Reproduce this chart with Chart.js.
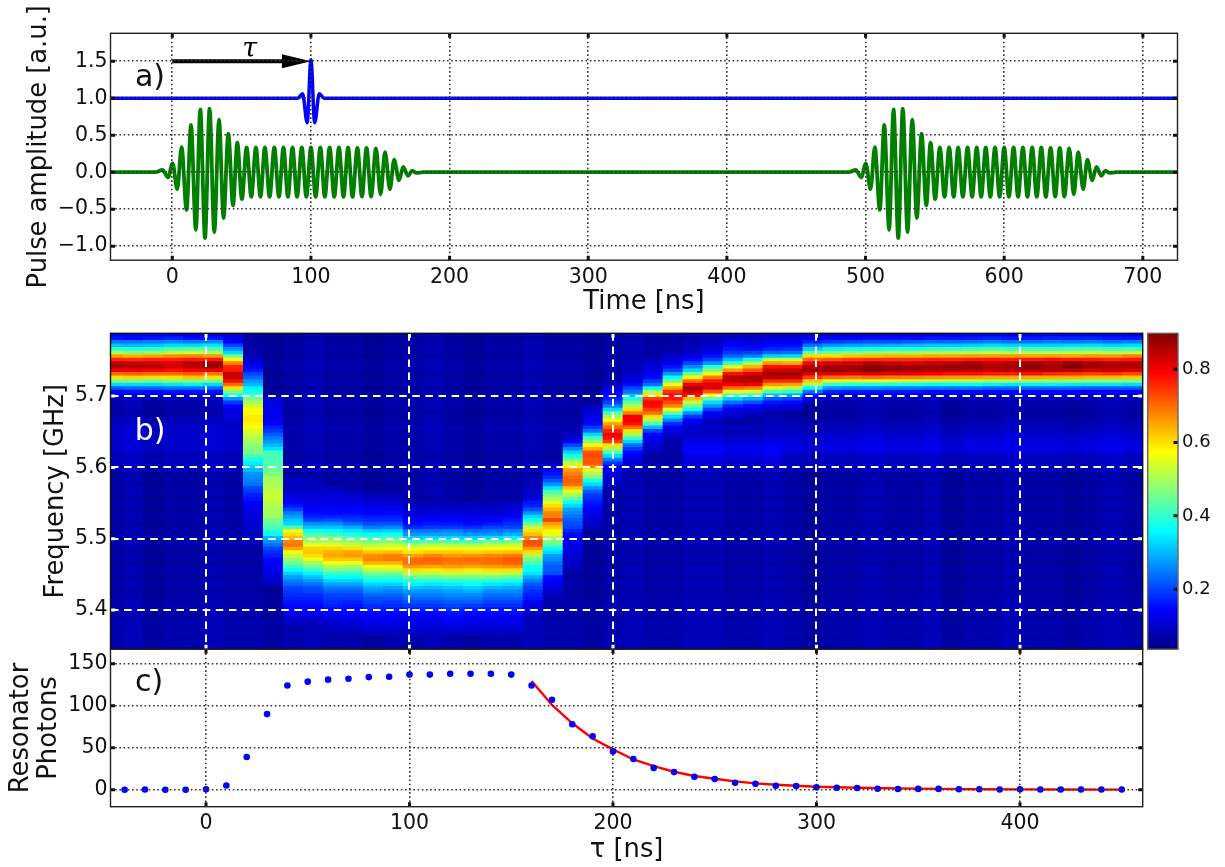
<!DOCTYPE html>
<html>
<head>
<meta charset="utf-8">
<title>Pulse sequence and resonator response</title>
<script src="https://cdn.jsdelivr.net/npm/chart.js@4"></script>
<style>
  body { margin: 0; background: #fff; }
  canvas { position: absolute; left: 0; top: 0; }
</style>
</head>
<body>
<canvas id="pulseChart" width="1225" height="867"></canvas>
<canvas id="heatChart" width="1225" height="867"></canvas>
<canvas id="barChart" width="1225" height="867"></canvas>
<canvas id="photonChart" width="1225" height="867"></canvas>
<script>
// panel a
const pulseTimes = [-20,-12,-7,-3.1,0.2,3.6,6.7,10.3,13.5,17,20.2,23.6,26.9,30.3,33.7,37,40.4,43.8,46.9,50.2,53.6,57,60.3,63.6,66.8,70.2,73.6,76.9,80.2,83.4,86.7,90,93.4,96.7,100,103.4,106.8,110,113.5,116.8,120.2,123.5,126.8,130,133.5,136.8,140.1,143.4,146.9,150.2,153.4,157,160,163.5,166.6,170,173,176,181]
const pulseValues = [0,0,0.03,-0.07,0.12,-0.23,0.34,-0.51,0.64,-0.78,0.85,-0.89,0.86,-0.81,0.71,-0.62,0.52,-0.45,0.4,-0.365,0.335,-0.335,0.335,-0.335,0.335,-0.335,0.335,-0.335,0.335,-0.335,0.335,-0.335,0.335,-0.335,0.335,-0.335,0.335,-0.335,0.335,-0.335,0.335,-0.335,0.335,-0.335,0.33,-0.33,0.33,-0.33,0.32,-0.3,0.27,-0.23,0.17,-0.11,0.07,-0.05,0.02,-0.01,0]
const pulseStarts = [0, 500]
const probeTimes = [-50,88,90.5,94,97.3,100,102.7,106,109.5,112,750]
const probeValues = [1,1,1,1.06,0.67,1.52,0.67,1.06,1,1,1]
const arrowTaus = [0, 100]
const arrowLevel = 1.5

// panel b, values in hundredths, each column is [first row, values...], row 0 is the top one
const heatColumns = [
  [0,12,16,24,31,40,50,66,76,85,87,80,70,60,46,33,22,15,11,9],
  [0,12,15,24,30,38,48,64,75,84,86,80,71,61,46,33,23,16,12,10],
  [0,13,16,25,31,39,49,65,76,83,85,79,70,60,45,33,23,15,11,9],
  [0,12,17,26,33,42,52,67,76,82,83,78,70,60,47,34,24,16,11,9],
  [0,11,15,25,33,43,53,68,77,85,85,80,72,62,47,35,24,16,11,9],
  [0,11,16,26,34,42,50,66,77,87,88,80,69,60,46,33,23,16,11,9],
  [0,11,12,14,20,26,33,45,58,68,76,77,84,84,78,70,60,46,38,27,19,15,13,12,11,11],
  [6,8,10,12,14,16,20,23,27,30,35,37,42,46,50,54,57,58,59,59,58,57,55,53,51,50,48,47,46,42,38,35,32,30,27,26,25,24,20,19,17,16,14,13,12,12,11,11,10,10,10,9,9,9],
  [18,11,12,12,13,13,13,13,14,17,19,22,25,27,30,34,41,42,42,43,43,45,47,49,50,50,51,52,53,53,52,51,50,50,49,46,44,42,40,36,30,27,24,20,18,17,15,14,13,13,12,11,10,9],
  [40,8,9,9,9,10,11,12,14,16,20,25,28,31,33,42,56,60,63,68,69,65,56,53,49,45,41,36,32,28,25,23,20,19,18,17,16,15,14,13,11,10,9],
  [42,9,9,10,11,11,12,13,14,15,17,20,26,31,37,42,47,50,55,61,62,60,56,50,45,40,35,31,27,24,21,20,18,17,16,15,14,13,12,10,9,8],
  [43,9,10,11,12,12,13,14,15,17,21,26,31,36,41,46,50,55,61,64,65,62,57,51,46,41,36,32,28,25,22,20,19,18,17,15,14,13,11,10,9,9],
  [44,9,10,11,12,13,14,15,17,19,23,29,34,38,43,48,53,60,65,66,62,56,50,45,40,36,32,28,25,22,20,19,17,16,15,14,13,12,11,10,9],
  [45,9,10,11,12,13,14,16,18,21,25,31,36,41,46,51,56,62,67,68,64,57,51,46,41,36,32,29,26,23,21,20,18,17,15,14,13,12,11,10,9],
  [45,9,10,11,12,13,15,16,18,21,26,32,37,42,47,52,57,63,68,69,64,58,52,46,41,36,32,28,25,23,21,19,18,16,15,14,13,12,11,10,9],
  [47,8,9,10,11,12,14,15,18,24,27,32,42,50,56,60,66,70,70,66,60,52,45,39,35,31,27,25,23,21,19,17,15,14,13,12,11,10,9],
  [47,8,9,10,11,13,14,16,19,24,28,33,43,51,57,62,68,71,70,65,59,52,45,39,34,30,27,25,23,21,19,17,15,14,13,12,11,10,9],
  [47,8,9,10,12,13,15,16,19,25,28,33,42,50,57,62,66,70,69,66,60,53,46,40,35,31,28,26,24,22,20,18,16,15,14,13,12,10,9],
  [47,8,9,10,11,12,14,15,18,23,27,32,42,50,56,61,67,70,69,65,59,52,46,40,36,32,29,26,24,22,19,17,15,14,13,12,11,10,9],
  [47,8,9,10,11,13,14,16,20,24,27,33,44,52,57,62,68,70,70,66,60,53,46,39,34,30,26,24,22,20,18,16,15,14,13,12,11,10,9],
  [47,9,10,11,12,14,16,18,20,25,29,35,45,53,58,63,69,72,71,67,60,52,44,38,33,29,26,24,22,20,18,16,15,14,13,12,11,10,9],
  [42,8,9,10,10,11,16,17,21,27,33,37,45,52,60,63,68,72,72,66,60,50,46,42,38,36,34,29,25,22,20,18,17,16,14,12,11,10,9],
  [36,9,10,13,16,18,22,27,34,42,46,50,55,60,64,68,68,74,66,62,58,56,50,47,43,36,33,28,26,24,22,22,21,15,14,13,12,10,9,8],
  [27,8,9,10,14,20,26,33,38,45,52,59,66,68,70,71,70,62,55,50,44,37,33,28,26,24,22,21,20,17,15,14,13,12,12,11,11,10,10,9,8],
  [20,9,10,11,12,13,15,19,24,33,42,47,58,64,72,73,72,72,68,55,50,46,38,33,27,22,19,18,16,15,14,13,12,11,10,9],
  [14,9,12,14,15,17,20,25,33,43,50,58,65,70,76,80,78,74,60,50,42,33,25,19,15,13,12,11,10,9],
  [11,9,11,12,15,20,24,30,38,45,50,60,68,80,80,78,70,60,50,42,33,24,19,15,13,12,11,10,9],
  [7,9,10,11,12,13,15,19,24,36,50,60,74,79,78,74,70,60,50,43,30,20,15,13,12,11,10,9],
  [5,8,10,11,13,16,20,27,37,45,57,65,75,78,77,73,68,56,44,33,25,18,14,12,10,9],
  [3,8,9,10,12,15,20,26,33,45,58,70,80,86,83,78,63,52,45,37,27,19,14,12,10,10],
  [1,8,9,10,11,13,16,20,27,39,47,56,68,77,82,81,72,58,44,33,27,20,14,12,10],
  [0,8,10,12,14,16,19,23,30,40,55,66,78,85,85,79,70,55,42,32,24,17,13,11,10],
  [0,9,10,11,13,15,20,25,37,50,64,72,82,86,85,80,68,54,40,29,21,15,12,10],
  [0,10,11,13,15,17,23,32,52,66,78,83,87,85,76,66,55,42,30,22,16,12,10],
  [0,10,11,13,15,18,24,33,52,65,78,84,87,84,76,65,52,40,28,20,15,12,10],
  [0,10,13,17,24,32,44,60,70,80,86,87,82,74,62,50,36,24,16,12,10],
  [0,10,14,19,27,35,46,60,72,82,87,88,82,70,54,40,27,17,11,9],
  [0,10,14,20,28,36,47,62,74,83,87,87,81,69,53,39,26,16,11,9],
  [0,11,15,21,29,37,48,63,75,85,89,89,82,70,54,38,26,16,11,9],
  [0,11,15,21,29,38,49,64,75,84,88,88,81,69,53,38,25,16,11,9],
  [0,11,15,22,30,38,49,64,75,83,87,87,80,68,52,37,25,16,11,9],
  [0,11,16,23,31,40,50,65,76,84,87,86,79,67,51,36,24,15,11,9],
  [0,12,16,23,31,40,51,65,76,85,88,86,78,66,50,36,24,15,10,9],
  [0,12,16,24,32,41,51,66,77,86,88,85,78,66,50,36,24,15,10,9],
  [0,12,17,25,33,42,52,66,77,84,86,84,77,65,49,35,23,15,10,9],
  [0,12,16,24,32,41,51,66,77,85,87,85,77,65,49,34,23,15,11,9],
  [0,12,16,24,32,41,51,65,77,87,89,86,78,65,49,35,23,15,11,9],
  [0,13,17,25,32,41,51,66,78,85,87,85,76,64,48,35,23,15,11,9],
  [0,12,17,24,33,41,52,65,77,88,90,85,75,64,48,34,23,14,11,9],
  [0,12,17,25,33,42,52,66,77,86,87,83,74,63,47,34,22,14,10,9],
  [0,12,16,24,32,41,51,66,76,85,86,83,75,63,47,34,22,14,10,9],
  [0,12,16,25,33,41,52,68,77,85,86,82,73,62,46,33,22,14,10,9]
]
const backgroundRows = [7,6,7,6,7,7,6,7,7,7,7,6,7,7,7,6,7,7,7,7,7,7,6,7,7,7,8,7,7,7,7,7,7,7,6,7,7,7,7,6,7,7,6,7,7,7,6,7,7,6,7,7,7,6,7,7,7,6,7,7,7,6,7,7,6,7,7,7,6,7,7,7,6,7,7,7,8,7,7,7,7,8,7,7,8,7,8,7,7]
const columnRipple = [0,1,-1,0,0,1,0,0,-1,0,1,0,0,-1,0,0,1,0,-1,0,0,1,0,0,-1,0,1,0,0,1,1,0,0,1,0,-1,0,0,1,0,0,1,-1,0,0,1,0,0,-1,0,1,0]
// faint blobs under the ridge: columns, first row, what each row adds
const faintBands = [
  { cols: [0, 6], firstRow: 23, adds: [1,1,2,2,3,3,3,3,3,3,2,2,2,1,1,1] },
  { cols: [29, 33], firstRow: 26, adds: [1,1,2,3,4,5,6,6,5,4,3,2,1,1] },
  { cols: [34, 51], firstRow: 25, adds: [1,1,2,3,4,4,5,5,4,3,2,2,1,1] }
]
const freqTop = 5.788
const freqStep = 0.005
const rowCount = 89
const columnStart = -50.3
const columnStep = 9.82
const barLimits = [0.036, 0.898]
const tauTicks = [0, 100, 200, 300, 400]

// panel c
const photonTaus = [-40,-30,-20,-10,0,10,20,30,40,50,60,70,80,90,100,110,120,130,140,150,160,170,180,190,200,210,220,230,240,250,260,270,280,290,300,310,320,330,340,350,360,370,380,390,400,410,420,430,440,450]
const photonValues = [0,0.3,0,0,0.5,5,39,90,124,128.6,131,132,134,134.5,137,137,138,138,138,137,124,107,78,63.5,45.6,36.5,26,21,15.5,12.7,8.3,7,4.8,4.4,2.8,2.4,2,1.2,0.8,1,1,0.5,0.5,0.3,0.6,0.3,0.2,0.3,0.2,0.2]
const fitTaus = [160,170,180,190,200,210,220,230,240,250,260,270,280,290,300,320,340,360,380,400,420,450]
const fitValues = [129.4,100.8,79,61,48,36,28,21.4,16.3,13,10,7.5,6,4.8,3.6,2.4,1.6,1,0.6,0.4,0.2,0.1]

Chart.defaults.font.family = "'DejaVu Sans'"
Chart.defaults.color = '#111'
Chart.defaults.animation = false
Chart.defaults.responsive = false
Chart.defaults.plugins.legend.display = false
Chart.defaults.plugins.tooltip.enabled = false

const jet = (value) => {
  const n = (value - barLimits[0]) / (barLimits[1] - barLimits[0])
  const part = (c) => Math.round(255 * Math.min(1, Math.max(0, 1.5 - Math.abs(4 * n - c))))
  return `rgb(${part(3)},${part(2)},${part(1)})`
}

const heatValue = (col, row) => {
  const column = heatColumns[col]
  const inWindow = column[row - column[0] + 1]
  if (row >= column[0] && inWindow !== undefined) return inWindow / 100
  let level = backgroundRows[row] + columnRipple[col]
  faintBands.forEach((band) => {
    if (col >= band.cols[0] && col <= band.cols[1]) level += band.adds[row - band.firstRow] || 0
  })
  return level / 100
}

const heatCells = []
const heatColors = []
heatColumns.forEach((column, col) => {
  for (let row = 0; row < rowCount; row++) {
    heatCells.push({
      x: columnStart + columnStep * (col + 0.5),
      y: [freqTop - freqStep * (row + 1), freqTop - freqStep * row]
    })
    heatColors.push(jet(heatValue(col, row)))
  }
})

// inward tick marks and the box round a panel
const framePlugin = (tickColor, boxColor, text) => ({
  id: 'frame',
  afterDraw (chart) {
    const { ctx, chartArea: a, scales } = chart
    ctx.save()
    ctx.strokeStyle = tickColor
    ctx.lineWidth = 3
    ctx.beginPath()
    if (scales.x.options.display !== false) {
      scales.x.ticks.forEach((t) => {
        const px = scales.x.getPixelForValue(t.value)
        ctx.moveTo(px, a.top); ctx.lineTo(px, a.top + 4.5)
        ctx.moveTo(px, a.bottom); ctx.lineTo(px, a.bottom - 4.5)
      })
    }
    scales.y.ticks.forEach((t) => {
      const py = scales.y.getPixelForValue(t.value)
      if (scales.x.options.display !== false) {
        ctx.moveTo(a.left, py); ctx.lineTo(a.left + 4.5, py)
      }
      ctx.moveTo(a.right, py); ctx.lineTo(a.right - 4.5, py)
    })
    ctx.stroke()
    ctx.strokeStyle = boxColor
    ctx.lineWidth = 1.4
    ctx.strokeRect(a.left, a.top, a.right - a.left, a.bottom - a.top)
    if (text) {
      ctx.fillStyle = text.color
      ctx.font = "30px 'DejaVu Sans'"
      ctx.textAlign = 'center'
      ctx.textBaseline = 'middle'
      ctx.fillText(text.label, text.x, text.y)
    }
    ctx.restore()
  }
})

const arrowPlugin = {
  id: 'arrow',
  afterDatasetsDraw (chart) {
    const { ctx, scales } = chart
    const x0 = scales.x.getPixelForValue(arrowTaus[0])
    const x1 = scales.x.getPixelForValue(arrowTaus[1])
    const y = scales.y.getPixelForValue(arrowLevel)
    ctx.save()
    ctx.strokeStyle = '#000'
    ctx.fillStyle = '#000'
    ctx.lineWidth = 4
    ctx.beginPath()
    ctx.moveTo(x0, y)
    ctx.lineTo(x1 - 25, y)
    ctx.stroke()
    ctx.beginPath()
    ctx.moveTo(x1, y)
    ctx.lineTo(x1 - 29, y - 7)
    ctx.lineTo(x1 - 29, y + 7)
    ctx.closePath()
    ctx.fill()
    ctx.font = "italic 27px 'DejaVu Serif'"
    ctx.textAlign = 'center'
    ctx.textBaseline = 'middle'
    ctx.fillText('τ', (x0 + x1) / 2 + 8, y - 11)
    ctx.restore()
  }
}

const dotted = { grid: { color: '#333', lineWidth: 1.6, z: 1, drawTicks: false }, border: { display: false, dash: [1.6, 2.6] } }
const dashed = { grid: { color: '#fff', lineWidth: 2, z: 1, drawTicks: false }, border: { display: false, dash: [7.5, 5.6] } }
const titleFont = { size: 25.8 }
const tickFont = { size: 20.5 }
const useTauTicks = (s) => { s.ticks = tauTicks.map((value) => ({ value })) }

const minusLabel = (digits) => (value) => value.toFixed(digits).replace('-', '\u2212')

const pulseSeries = [{ x: -50, y: 0 }].concat(
  pulseStarts.flatMap((start) => pulseTimes.map((t, i) => ({ x: t + start, y: pulseValues[i] }))),
  [{ x: 750, y: 0 }]
)

new Chart(document.getElementById('pulseChart'), {
  type: 'line',
  data: {
    datasets: [
      {
        data: probeTimes.map((t, i) => ({ x: t, y: probeValues[i] })),
        borderColor: '#0000ff',
        borderWidth: 3.5,
        pointRadius: 0,
        cubicInterpolationMode: 'monotone'
      },
      {
        data: pulseSeries,
        borderColor: '#007f00',
        borderWidth: 3.8,
        pointRadius: 0,
        cubicInterpolationMode: 'monotone'
      }
    ]
  },
  options: {
    layout: { padding: { top: 33.3, right: 47.5, left: 0, bottom: 549 } },
    scales: {
      x: {
        type: 'linear',
        min: -44.56,
        max: 725,
        ...dotted,
        afterFit (s) { s.height = 57.8 },
        ticks: { stepSize: 100, includeBounds: false, autoSkip: false, maxRotation: 0, padding: 5, font: tickFont },
        title: { display: true, text: 'Time [ns]', font: titleFont, padding: 0 }
      },
      y: {
        min: -1.19,
        max: 1.878,
        ...dotted,
        afterFit (s) { s.width = 110.5 },
        ticks: { stepSize: 0.5, includeBounds: false, autoSkip: false, padding: 3, font: tickFont, callback: minusLabel(1) },
        title: { display: true, text: 'Pulse amplitude [a.u.]', font: titleFont, padding: { top: 24, bottom: 0 } }
      }
    }
  },
  plugins: [arrowPlugin, framePlugin('#111', '#222', { label: 'a)', color: '#111', x: 150, y: 78 })]
})

new Chart(document.getElementById('heatChart'), {
  type: 'bar',
  data: {
    datasets: [{
      data: heatCells,
      backgroundColor: heatColors,
      borderWidth: 0,
      barThickness: 20,
      inflateAmount: 0.5
    }]
  },
  options: {
    layout: { padding: { top: 333.3, right: 82.3, left: 0, bottom: 217.7 } },
    scales: {
      x: {
        type: 'linear',
        min: -46.93,
        max: 460.3,
        offset: false,
        ...dashed,
        grid: { ...dashed.grid, offset: false },
        afterBuildTicks: useTauTicks,
        afterFit (s) { s.height = 0 },
        ticks: { autoSkip: false, display: false },
        title: { display: false }
      },
      y: {
        min: 5.345,
        max: 5.788,
        ...dashed,
        afterFit (s) { s.width = 110.5 },
        ticks: { stepSize: 0.1, includeBounds: false, autoSkip: false, padding: 3, font: tickFont, callback: minusLabel(1) },
        title: { display: true, text: 'Frequency [GHz]', font: titleFont, padding: { top: 41, bottom: 0 } }
      }
    }
  },
  plugins: [framePlugin('#fff', '#111', { label: 'b)', color: '#fff', x: 150, y: 432 })]
})

new Chart(document.getElementById('barChart'), {
  type: 'bar',
  data: {
    labels: [''],
    datasets: [{
      data: [barLimits],
      borderWidth: 0,
      barPercentage: 1,
      categoryPercentage: 1,
      backgroundColor (ctx) {
        const area = ctx.chart.chartArea
        if (!area) return '#00f'
        const gradient = ctx.chart.ctx.createLinearGradient(0, area.bottom, 0, area.top)
        for (let i = 0; i <= 16; i++) {
          gradient.addColorStop(i / 16, jet(barLimits[0] + (barLimits[1] - barLimits[0]) * i / 16))
        }
        return gradient
      }
    }]
  },
  options: {
    layout: { padding: { top: 333.3, right: 0, left: 1147.7, bottom: 217.7 } },
    scales: {
      x: { display: false },
      y: {
        position: 'right',
        min: barLimits[0],
        max: barLimits[1],
        grid: { display: false, drawTicks: false },
        border: { display: false },
        afterFit (s) { s.width = 47 },
        ticks: { stepSize: 0.2, includeBounds: false, autoSkip: false, padding: 4, font: { size: 18 }, callback: minusLabel(1) }
      }
    }
  },
  plugins: [framePlugin('#111', '#666')]
})

new Chart(document.getElementById('photonChart'), {
  type: 'line',
  data: {
    datasets: [
      {
        data: photonTaus.map((t, i) => ({ x: t, y: photonValues[i] })),
        showLine: false,
        pointRadius: 3.3,
        pointBorderWidth: 0,
        pointBackgroundColor: '#0000ff'
      },
      {
        data: fitTaus.map((t, i) => ({ x: t, y: fitValues[i] })),
        borderColor: '#ff0000',
        borderWidth: 2.4,
        pointRadius: 0
      }
    ]
  },
  options: {
    layout: { padding: { top: 649.3, right: 82.3, left: 0, bottom: 1.7 } },
    scales: {
      x: {
        type: 'linear',
        min: -46.93,
        max: 460.3,
        ...dotted,
        afterBuildTicks: useTauTicks,
        afterFit (s) { s.height = 58.6 },
        ticks: { autoSkip: false, maxRotation: 0, padding: 5, font: tickFont, callback: (value) => String(value) },
        title: { display: true, text: 'τ [ns]', font: titleFont, padding: 0 }
      },
      y: {
        min: -20.2,
        max: 167.1,
        ...dotted,
        afterFit (s) { s.width = 110.5 },
        ticks: { stepSize: 50, includeBounds: false, autoSkip: false, padding: 3, font: tickFont },
        title: {
          display: true,
          text: ['Resonator', 'Photons'],
          font: { size: 25.8, lineHeight: 1.06 },
          padding: { top: 8, bottom: 0 }
        }
      }
    }
  },
  plugins: [framePlugin('#111', '#222', { label: 'c)', color: '#111', x: 149, y: 683 })]
})
</script>
</body>
</html>
